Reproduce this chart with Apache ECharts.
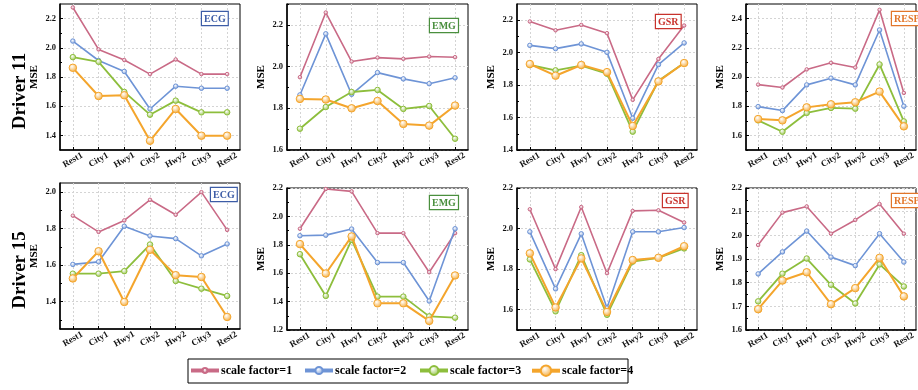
<!DOCTYPE html>
<html>
<head>
<meta charset="utf-8">
<script src="https://cdn.jsdelivr.net/npm/echarts@6/dist/echarts.min.js"></script>
<style>
  html, body { margin: 0; padding: 0; background: #fff; }
  #main { width: 918px; height: 390px; }
</style>
</head>
<body>
<div id="main"></div>
<script>
const conditions = ['Rest1', 'City1', 'Hwy1', 'City2', 'Hwy2', 'City3', 'Rest2']
const factorNames = ['scale factor=1', 'scale factor=2', 'scale factor=3', 'scale factor=4']

// Driver 11 (rows: scale factor 1..4)
const ecg11 = [
  [2.276, 1.989, 1.916, 1.820, 1.920, 1.820, 1.820],
  [2.046, 1.913, 1.838, 1.581, 1.737, 1.723, 1.723],
  [1.936, 1.904, 1.698, 1.542, 1.638, 1.558, 1.558],
  [1.863, 1.670, 1.675, 1.363, 1.581, 1.398, 1.398]
]
const emg11 = [
  [1.949, 2.259, 2.024, 2.043, 2.037, 2.048, 2.045],
  [1.864, 2.157, 1.867, 1.971, 1.941, 1.918, 1.946],
  [1.702, 1.806, 1.878, 1.888, 1.797, 1.811, 1.654],
  [1.845, 1.842, 1.800, 1.835, 1.725, 1.717, 1.813]
]
const gsr11 = [
  [2.192, 2.138, 2.171, 2.120, 1.709, 1.961, 2.167],
  [2.045, 2.025, 2.054, 2.002, 1.596, 1.926, 2.060],
  [1.924, 1.891, 1.920, 1.870, 1.513, 1.827, 1.936],
  [1.930, 1.858, 1.924, 1.880, 1.548, 1.823, 1.936]
]
const resp11 = [
  [1.948, 1.928, 2.052, 2.097, 2.065, 2.460, 1.891],
  [1.797, 1.770, 1.946, 1.992, 1.946, 2.322, 1.800],
  [1.703, 1.625, 1.754, 1.788, 1.783, 2.086, 1.696],
  [1.712, 1.703, 1.792, 1.813, 1.827, 1.900, 1.662]
]

// Driver 15
const ecg15 = [
  [1.871, 1.782, 1.845, 1.958, 1.876, 2.000, 1.793],
  [1.604, 1.618, 1.813, 1.760, 1.745, 1.651, 1.716],
  [1.553, 1.553, 1.567, 1.713, 1.513, 1.471, 1.431],
  [1.527, 1.676, 1.398, 1.684, 1.545, 1.535, 1.316]
]
const emg15 = [
  [1.913, 2.193, 2.176, 1.882, 1.882, 1.607, 1.882],
  [1.864, 1.868, 1.911, 1.675, 1.675, 1.404, 1.913],
  [1.734, 1.440, 1.835, 1.435, 1.435, 1.296, 1.287],
  [1.805, 1.598, 1.859, 1.388, 1.388, 1.264, 1.584]
]
const gsr15 = [
  [2.095, 1.800, 2.106, 1.780, 2.087, 2.090, 2.030],
  [1.984, 1.703, 1.974, 1.608, 1.984, 1.984, 2.005],
  [1.848, 1.592, 1.869, 1.575, 1.837, 1.856, 1.902],
  [1.878, 1.611, 1.853, 1.589, 1.845, 1.856, 1.913]
]
const resp15 = [
  [1.959, 2.096, 2.122, 2.007, 2.065, 2.132, 2.007],
  [1.837, 1.930, 2.018, 1.908, 1.872, 2.007, 1.887],
  [1.721, 1.838, 1.902, 1.791, 1.712, 1.877, 1.784],
  [1.688, 1.809, 1.844, 1.709, 1.777, 1.905, 1.742]
]

// y tick labels per panel
const ticksEcg11 = [1.4, 1.6, 1.8, 2.0, 2.2]
const ticksEmg11 = [1.6, 1.8, 2.0, 2.2]
const ticksGsr11 = [1.4, 1.6, 1.8, 2.0, 2.2]
const ticksResp11 = [1.6, 1.8, 2.0, 2.2, 2.4]
const ticksEcg15 = [1.4, 1.6, 1.8, 2.0]
const ticksEmg15 = [1.2, 1.4, 1.6, 1.8, 2.0, 2.2]
const ticksGsr15 = [1.6, 1.8, 2.0, 2.2]
const ticksResp15 = [1.6, 1.7, 1.8, 1.9, 2.0, 2.1, 2.2]

const colors = ['#C96A86', '#6E94D6', '#8DBE3C', '#F4A52C']
const symbolSizes = [3.5, 4.5, 5.5, 7.5]
const lineWidths = [1.6, 1.6, 1.8, 2]

const panels = [
  { data: ecg11, ticks: ticksEcg11, min: 1.3, max: 2.3, left: 60, top: 4, width: 180, height: 146, tag: 'ECG', tagColor: '#3C5CA6', tagX: 202, tagY: 12 },
  { data: emg11, ticks: ticksEmg11, min: 1.6, max: 2.3, left: 287, top: 4, width: 181, height: 146, tag: 'EMG', tagColor: '#4A8F3E', tagX: 430, tagY: 19 },
  { data: gsr11, ticks: ticksGsr11, min: 1.4, max: 2.3, left: 517, top: 4, width: 180, height: 146, tag: 'GSR', tagColor: '#C8322C', tagX: 656, tagY: 15 },
  { data: resp11, ticks: ticksResp11, min: 1.5, max: 2.5, left: 746, top: 4, width: 180, height: 146, tag: 'RESP', tagColor: '#E2762A', tagX: 892, tagY: 12 },
  { data: ecg15, ticks: ticksEcg15, min: 1.25, max: 2.05, left: 60, top: 183, width: 180, height: 146, tag: 'ECG', tagColor: '#3C5CA6', tagX: 211, tagY: 188 },
  { data: emg15, ticks: ticksEmg15, min: 1.2, max: 2.2, left: 287, top: 188, width: 181, height: 142, tag: 'EMG', tagColor: '#4A8F3E', tagX: 430, tagY: 196 },
  { data: gsr15, ticks: ticksGsr15, min: 1.5, max: 2.2, left: 517, top: 188, width: 180, height: 142, tag: 'GSR', tagColor: '#C8322C', tagX: 663, tagY: 194 },
  { data: resp15, ticks: ticksResp15, min: 1.6, max: 2.2, left: 746, top: 188, width: 180, height: 142, tag: 'RESP', tagColor: '#E2762A', tagX: 892, tagY: 194 }
]

const serif = '"Liberation Serif", "Times New Roman", serif'
const catIdx = conditions.map((c, i) => i)

// minor ticks halfway between the labelled ones
function minorTicks(t, min, max) {
  const step = t[1] - t[0]
  const out = []
  for (let v = t[0] - step / 2; v <= max + 1e-9; v += step) {
    if (v >= min - 1e-9) out.push(v)
  }
  return out
}

function symbolFill(c) {
  return {
    type: 'radial', x: 0.4, y: 0.35, r: 0.7,
    colorStops: [{ offset: 0, color: '#fff' }, { offset: 1, color: c }]
  }
}

const grid = [], xAxis = [], yAxis = [], series = [], graphic = []

panels.forEach((p, k) => {
  grid.push({
    left: p.left, top: p.top, width: p.width, height: p.height,
    show: true, borderColor: '#000', borderWidth: 1, backgroundColor: '#fff'
  })
  xAxis.push({
    type: 'value', gridIndex: k, min: -0.5, max: 6.5,
    axisLine: { onZero: false, lineStyle: { color: '#000', width: 1.5 } },
    axisTick: { inside: true, length: 3, customValues: catIdx, lineStyle: { color: '#000' } },
    axisLabel: {
      customValues: catIdx, rotate: 30, align: 'center', verticalAlign: 'middle', margin: 10,
      fontFamily: serif, fontWeight: 'bold', fontSize: 9, color: '#111',
      formatter: v => conditions[Math.round(v)]
    },
    splitLine: { show: true, lineStyle: { color: '#d4d4d4', type: [2, 2], width: 1 } }
  })
  yAxis.push({
    type: 'value', gridIndex: k, min: p.min, max: p.max,
    name: 'MSE', nameLocation: 'middle', nameGap: 20,
    nameTextStyle: { fontFamily: serif, fontWeight: 'bold', fontSize: 11, color: '#000' },
    axisLine: { onZero: false, lineStyle: { color: '#000', width: 1.5 } },
    axisTick: { inside: true, length: 3, customValues: p.ticks, lineStyle: { color: '#000' } },
    axisLabel: {
      customValues: p.ticks, margin: 4,
      fontFamily: serif, fontWeight: 'bold', fontSize: 8.5, color: '#111',
      formatter: v => v.toFixed(1)
    },
    splitLine: { show: true, lineStyle: { color: '#d4d4d4', type: [2, 2], width: 1 } }
  })
  series.push(...p.data.map((vals, i) => ({
    type: 'line',
    name: factorNames[i],
    xAxisIndex: k,
    yAxisIndex: k,
    data: vals.map((v, j) => [j, v]),
    symbol: 'circle',
    symbolSize: symbolSizes[i],
    lineStyle: { color: colors[i], width: lineWidths[i], type: 'solid' },
    itemStyle: { color: symbolFill(colors[i]), borderColor: colors[i], borderWidth: 1 },
    z: 2 + i,
    animation: false
  })))
  graphic.push({
    type: 'text', x: p.tagX, y: p.tagY, z: 100,
    style: {
      text: p.tag, fill: p.tagColor, font: 'bold 10px ' + serif,
      backgroundColor: '#fff', borderColor: p.tagColor, borderWidth: 1.2, padding: [2, 2, 1, 2]
    }
  })
})

// minor tick axes, one per panel, drawn over the same grid
panels.forEach((p, k) => {
  yAxis.push({
    type: 'value', gridIndex: k, min: p.min, max: p.max, position: 'left',
    axisLine: { show: false, onZero: false },
    axisLabel: { show: false },
    splitLine: { show: false },
    axisTick: { inside: true, length: 2, customValues: minorTicks(p.ticks, p.min, p.max), lineStyle: { color: '#000' } }
  })
})

// row titles and legend frame
graphic.push(
  { type: 'text', x: 20, y: 91, rotation: Math.PI / 2, style: { text: 'Driver 11', font: 'bold 19px ' + serif, fill: '#000', align: 'center', verticalAlign: 'middle' } },
  { type: 'text', x: 20, y: 270, rotation: Math.PI / 2, style: { text: 'Driver 15', font: 'bold 19px ' + serif, fill: '#000', align: 'center', verticalAlign: 'middle' } },
  { type: 'rect', shape: { x: 188, y: 359, width: 440, height: 24 }, style: { fill: 'none', stroke: '#000', lineWidth: 1 } }
)

const legendLefts = [189, 303, 418, 530]
const legendHeights = [6, 9, 11, 13]
const legend = factorNames.map((n, i) => ({
  data: [n],
  left: legendLefts[i],
  top: 371 - Math.max(legendHeights[i], 13) / 2,
  padding: 0,
  itemWidth: 28,
  itemHeight: legendHeights[i],
  itemGap: 0,
  lineStyle: { width: 4, type: 'solid' },
  textStyle: { fontFamily: serif, fontWeight: 'bold', fontSize: 12, color: '#000', padding: [0, 0, 0, -3] },
  selectedMode: false
}))

const chart = echarts.init(document.getElementById('main'))
chart.setOption({
  animation: false,
  grid, xAxis, yAxis, series, legend, graphic
})
</script>
</body>
</html>
